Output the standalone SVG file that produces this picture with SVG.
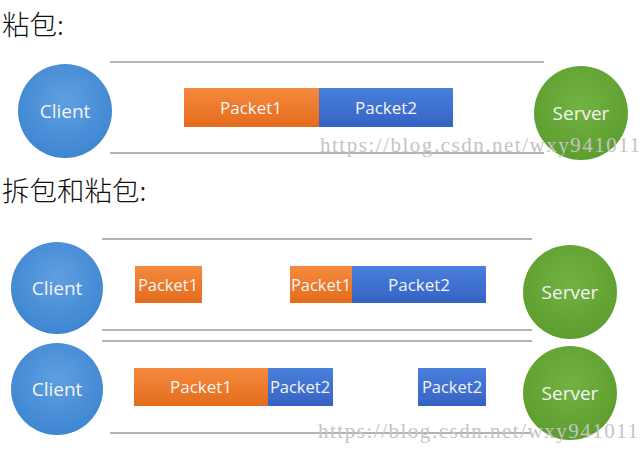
<svg xmlns="http://www.w3.org/2000/svg" width="642" height="450" viewBox="0 0 642 450">
<defs>
<linearGradient id="gOr" x1="0" y1="0" x2="0" y2="1"><stop offset="0" stop-color="#f58a3e"/><stop offset="1" stop-color="#e46c1c"/></linearGradient>
<linearGradient id="gBl" x1="0" y1="0" x2="0" y2="1"><stop offset="0" stop-color="#4a7fdc"/><stop offset="1" stop-color="#3563c4"/></linearGradient>
<radialGradient id="gC" cx="0.5" cy="0.4" r="0.6"><stop offset="0" stop-color="#5f9fe0"/><stop offset="1" stop-color="#3e86d2"/></radialGradient>
<radialGradient id="gS" cx="0.5" cy="0.4" r="0.6"><stop offset="0" stop-color="#72b241"/><stop offset="1" stop-color="#5d9e30"/></radialGradient>
</defs>
<style>
.title{font-family:"Noto Sans CJK SC","Noto Sans",sans-serif;font-size:27.5px;font-weight:300;fill:#111}
.lbl{font-family:"Open Sans","Liberation Sans",sans-serif;fill:#f4f4f4;text-anchor:middle;dominant-baseline:central}
.big{font-size:17px}
.node{font-size:19px}
.sm{font-size:16.5px}
.pipe{stroke:#9a9a9a;stroke-width:1.5;fill:none}
.wm{font-family:"Liberation Serif",serif;font-size:21px;fill:#c4c4c4}
</style>
<rect width="642" height="450" fill="#ffffff"/>
<text class="title" x="2" y="35">粘包:</text>
<text class="title" x="2" y="201">拆包和粘包:</text>
<g id="connectors">
<line class="pipe" x1="110" y1="62" x2="544" y2="62"/>
<line class="pipe" x1="110" y1="153" x2="544" y2="153"/>
<line class="pipe" x1="102" y1="239" x2="532" y2="239"/>
<line class="pipe" x1="102" y1="330" x2="532" y2="330"/>
<line class="pipe" x1="102" y1="341" x2="532" y2="341"/>
<line class="pipe" x1="110" y1="433" x2="532" y2="433"/>
</g>
<g id="client1"><circle cx="65" cy="111" r="47" fill="url(#gC)"/><text class="lbl node" x="65" y="111">Client</text></g>
<g id="server1"><circle cx="581" cy="113" r="47" fill="url(#gS)"/><text class="lbl node" x="581" y="113">Server</text></g>
<g id="t1p1"><rect x="184" y="88" width="135" height="39" fill="url(#gOr)"/><text class="lbl big" x="251" y="107">Packet1</text></g>
<g id="t1p2"><rect x="319" y="88" width="134" height="39" fill="url(#gBl)"/><text class="lbl big" x="386" y="107">Packet2</text></g>
<g id="client2"><circle cx="57" cy="288" r="46" fill="url(#gC)"/><text class="lbl node" x="57" y="288">Client</text></g>
<g id="server2"><circle cx="570" cy="292" r="47" fill="url(#gS)"/><text class="lbl node" x="570" y="292">Server</text></g>
<g id="r1p1a"><rect x="135" y="266" width="67" height="37" fill="url(#gOr)"/><text class="lbl sm" x="168" y="284">Packet1</text></g>
<g id="r1p1b"><rect x="290" y="266" width="62" height="37" fill="url(#gOr)"/><text class="lbl sm" x="321" y="284">Packet1</text></g>
<g id="r1p2"><rect x="352" y="266" width="134" height="37" fill="url(#gBl)"/><text class="lbl big" x="419" y="284">Packet2</text></g>
<g id="client3"><circle cx="57" cy="389" r="46" fill="url(#gC)"/><text class="lbl node" x="57" y="389">Client</text></g>
<g id="server3"><circle cx="570" cy="393" r="47" fill="url(#gS)"/><text class="lbl node" x="570" y="393">Server</text></g>
<g id="r2p1"><rect x="134" y="368" width="134" height="38" fill="url(#gOr)"/><text class="lbl big" x="201" y="386">Packet1</text></g>
<g id="r2p2a"><rect x="268" y="368" width="65" height="38" fill="url(#gBl)"/><text class="lbl sm" x="300" y="386">Packet2</text></g>
<g id="r2p2b"><rect x="418" y="368" width="68" height="38" fill="url(#gBl)"/><text class="lbl sm" x="452" y="386">Packet2</text></g>
<text class="wm" x="320" y="152" textLength="320" lengthAdjust="spacing">https://blog.csdn.net/wxy941011</text>
<text class="wm" x="318" y="438" textLength="320" lengthAdjust="spacing">https://blog.csdn.net/wxy941011</text>
</svg>
